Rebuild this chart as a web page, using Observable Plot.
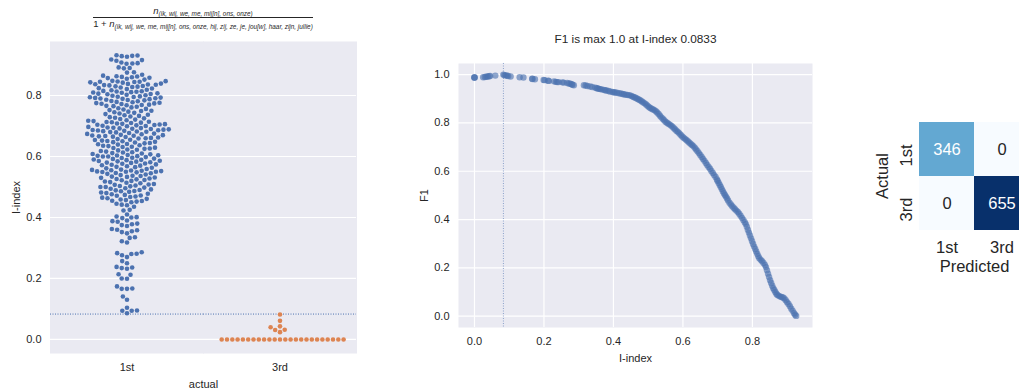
<!DOCTYPE html>
<html><head><meta charset="utf-8">
<script src="https://cdn.jsdelivr.net/npm/d3@7"></script>
<script src="https://cdn.jsdelivr.net/npm/@observablehq/plot@0.6"></script>
<style>
body{margin:0;background:#fff;overflow:hidden;}
#wrap{position:relative;width:1019px;height:392px;overflow:hidden;font-family:"Liberation Sans",Arial,sans-serif;color:#262626;}
.panel{position:absolute;top:0;}
.fline{position:absolute;left:93px;width:220px;text-align:center;white-space:nowrap;font-size:9.5px;line-height:10px;color:#262626;}
.fn{font-style:italic;}
.fsub{font-style:italic;font-size:6.4px;position:relative;top:2px;}
.fbar{position:absolute;left:93px;width:220px;top:17px;height:0;border-top:0.8px solid #262626;}
</style></head>
<body><div id="wrap">
<div class="fline" style="top:6px"><span class="fn">n</span><span class="fsub">(ik, wij, we, me, mij[n], ons, onze)</span></div>
<div class="fbar"></div>
<div class="fline" style="top:19px"><span>1 + </span><span class="fn">n</span><span class="fsub">(ik, wij, we, me, mij[n], ons, onze, hij, zij, ze, je, jou[w], haar, zijn, jullie)</span></div>
</div>
<script>
// ---------- data ----------
const classes = ["1st", "3rd"];
const threshold = 0.0833;
const titleMid = "F1 is max 1.0 at I-index 0.0833";

// I-index values of the "1st" group (swarm)
const firstValues = [
 0.086,0.094,0.094,0.095,0.104,0.130,0.141,0.166,0.166,0.167,0.174,
 0.199,0.200,0.212,0.214,0.232,0.234,0.236,0.238,0.250,0.257,
 0.270,0.276,0.280,0.281,0.283,0.286,0.318,0.322,0.333,0.335,
 0.348,0.352,0.355,0.358,0.360,0.362,0.372,0.375,0.378,0.380,0.386,0.388,0.390,
 0.398,0.400,0.401,0.403,0.410,0.423,0.425,0.435,0.440,0.442,0.445,
 0.450,0.452,0.454,0.455,0.457,0.459,
 0.461,0.463,0.465,0.467,0.469,0.471,0.472,0.474,0.476,0.478,
 0.480,0.482,0.484,0.486,0.487,0.489,0.490,0.492,0.494,0.496,0.498,
 0.500,0.500,0.502,0.503,0.505,0.507,0.508,0.510,0.512,0.514,0.516,0.518,
 0.520,0.522,0.523,0.525,0.526,0.528,0.530,0.531,0.533,0.534,0.536,0.537,0.539,
 0.541,0.543,0.545,0.546,0.548,0.549,0.550,0.550,0.551,0.552,0.553,0.554,0.555,0.556,0.557,0.559,
 0.561,0.563,0.565,0.566,0.568,0.570,0.571,0.573,0.574,0.576,0.577,0.579,
 0.580,0.581,0.583,0.584,0.585,0.586,0.588,0.589,0.590,0.592,0.593,0.595,0.596,0.598,
 0.600,0.600,0.601,0.602,0.603,0.604,0.605,0.607,0.608,0.610,0.611,0.613,0.614,0.616,0.618,
 0.620,0.622,0.623,0.625,0.626,0.628,0.629,0.631,0.632,0.634,0.635,0.637,0.639,
 0.640,0.641,0.643,0.644,0.646,0.647,0.648,0.650,0.651,0.652,0.654,0.655,0.657,0.659,
 0.660,0.661,0.662,0.664,0.665,0.666,0.667,0.668,0.669,0.670,0.671,0.673,0.674,0.675,0.677,0.679,
 0.680,0.681,0.682,0.683,0.684,0.685,0.686,0.687,0.688,0.689,0.690,0.691,0.692,0.693,0.694,0.695,0.697,0.699,
 0.700,0.701,0.702,0.703,0.704,0.705,0.706,0.707,0.708,0.710,0.711,0.712,0.713,0.714,0.716,0.717,0.719,
 0.721,0.723,0.725,0.727,0.729,0.731,0.733,0.735,0.737,0.739,
 0.741,0.743,0.745,0.747,0.749,0.750,0.752,0.754,0.756,0.758,
 0.761,0.763,0.765,0.766,0.768,0.769,0.770,0.772,0.773,0.774,0.775,0.776,0.778,0.779,
 0.781,0.782,0.784,0.785,0.786,0.788,0.789,0.790,0.791,0.792,0.793,0.794,0.795,0.796,0.797,0.799,
 0.801,0.802,0.804,0.805,0.806,0.807,0.809,0.810,0.811,0.812,0.813,0.814,0.815,0.817,0.819,
 0.821,0.823,0.824,0.826,0.828,0.829,0.830,0.831,0.833,0.834,0.835,0.836,0.837,0.838,0.839,
 0.842,0.843,0.844,0.845,0.845,0.846,0.847,0.848,0.852,0.855,0.857,0.858,0.860,0.861,0.862,0.863,0.865,0.868,
 0.875,0.876,0.889,0.890,0.892,0.904,0.905,0.906,0.908,0.914,0.916,0.918,0.927,0.929,0.930,0.931,0.932
];
// I-index values of the "3rd" group that are visible in the swarm
const thirdValues = [
 0,0,0,0,0,0,0,0,0,0,0,0,0,0,0,0,0,0,0,0,0,0,0,0,
 0.024,0.031,0.032,0.040,0.043,0.061,0.082
];

// F1 score per I-index threshold [threshold, F1]
const f1Points = [
 [0.000,0.988],[0.000,0.988],[0.000,0.988],[0.025,0.989],[0.030,0.990],[0.034,0.991],[0.038,0.992],[0.042,0.993],[0.045,0.994],[0.060,0.996],
 [0.083,1.000],[0.086,0.998],[0.090,0.997],[0.094,0.995],[0.097,0.994],[0.104,0.992],
 [0.130,0.989],[0.141,0.988],[0.166,0.983],[0.167,0.982],[0.174,0.981],
 [0.199,0.978],[0.202,0.977],[0.212,0.975],[0.214,0.974],
 [0.229,0.972],[0.234,0.970],[0.238,0.969],[0.242,0.969],[0.253,0.968],[0.257,0.967],
 [0.267,0.965],[0.272,0.963],[0.276,0.962],[0.280,0.960],[0.282,0.958],[0.286,0.956],
 [0.315,0.956],[0.320,0.955],[0.325,0.953],[0.333,0.951],[0.339,0.949],
 [0.348,0.946],[0.352,0.944],[0.355,0.943],[0.358,0.941],[0.362,0.940],[0.366,0.939],
 [0.372,0.937],[0.376,0.935],[0.380,0.934],[0.386,0.932],[0.390,0.930],[0.397,0.928],
 [0.401,0.927],[0.405,0.926],[0.410,0.925],[0.416,0.923],[0.421,0.922],[0.426,0.920],[0.430,0.919],[0.435,0.917],[0.440,0.916],[0.445,0.915],
 [0.450,0.913],[0.454,0.910],[0.458,0.907],[0.462,0.905],[0.466,0.902],[0.470,0.899],[0.474,0.896],[0.478,0.893],[0.482,0.889],[0.486,0.885],[0.490,0.881],[0.494,0.876],[0.498,0.871],
 [0.502,0.866],[0.506,0.862],[0.510,0.859],[0.514,0.856],[0.518,0.853],[0.522,0.848],[0.526,0.843],[0.530,0.837],[0.534,0.830],[0.538,0.823],[0.542,0.817],[0.546,0.811],[0.550,0.805],
 [0.554,0.801],[0.558,0.797],[0.562,0.793],[0.566,0.789],[0.570,0.784],[0.574,0.778],[0.578,0.773],[0.582,0.767],[0.586,0.762],[0.590,0.756],[0.594,0.750],[0.598,0.744],
 [0.602,0.739],[0.606,0.734],[0.610,0.729],[0.614,0.724],[0.618,0.719],[0.622,0.714],[0.626,0.709],[0.630,0.704],[0.634,0.697],[0.638,0.690],[0.642,0.683],[0.646,0.675],[0.650,0.667],
 [0.654,0.659],[0.658,0.651],[0.662,0.643],[0.666,0.634],[0.670,0.626],[0.674,0.618],[0.678,0.610],[0.682,0.601],[0.686,0.593],[0.690,0.584],[0.694,0.576],[0.698,0.566],
 [0.700,0.560],[0.703,0.551],[0.706,0.543],[0.709,0.535],[0.712,0.526],[0.715,0.517],[0.718,0.509],[0.721,0.502],[0.724,0.495],[0.727,0.487],[0.730,0.479],[0.734,0.470],[0.738,0.462],
 [0.742,0.455],[0.746,0.449],[0.750,0.443],[0.754,0.437],[0.758,0.431],[0.762,0.424],[0.766,0.416],[0.770,0.407],[0.774,0.398],[0.778,0.389],[0.781,0.381],[0.784,0.370],[0.787,0.358],
 [0.790,0.346],[0.793,0.334],[0.796,0.322],[0.799,0.310],[0.802,0.299],[0.805,0.288],[0.808,0.278],[0.811,0.268],[0.814,0.258],[0.817,0.248],[0.820,0.240],[0.824,0.233],[0.828,0.227],
 [0.832,0.220],[0.836,0.212],[0.839,0.203],[0.842,0.190],[0.845,0.176],[0.848,0.162],[0.851,0.149],[0.854,0.137],[0.857,0.126],[0.860,0.116],[0.863,0.108],[0.866,0.100],[0.869,0.093],
 [0.872,0.088],[0.876,0.084],[0.880,0.081],[0.884,0.079],[0.888,0.077],[0.892,0.073],[0.896,0.066],[0.900,0.058],[0.904,0.050],[0.908,0.041],[0.912,0.031],[0.916,0.022],[0.920,0.012],
 [0.923,0.006],[0.926,0.001]
];

// confusion matrix
const cmActual = ["1st", "1st", "3rd", "3rd"];
const cmPredicted = ["1st", "3rd", "1st", "3rd"];
const cmCounts = [346, 0, 0, 655];

const ticks01 = [0, 0.2, 0.4, 0.6, 0.8];
const ticksF1 = [0, 0.2, 0.4, 0.6, 0.8, 1.0];

// ---------- style ----------
const FONT = '"Liberation Sans", Arial, sans-serif';
const BG = "#eaeaf2";
const BLUE = "#4c72b0";
const ORANGE = "#dd8452";
const TXT = "#262626";

const wrap = document.getElementById("wrap");
function place(node, left) {
  node.classList.add("panel");
  node.style.left = left + "px";
  wrap.appendChild(node);
}

// ---------- left: swarm ----------
const swarm = [
  ...firstValues.map(v => ({actual: "1st", v})),
  ...thirdValues.map(v => ({actual: "3rd", v}))
].sort((a, b) => a.v - b.v);

const left = Plot.plot({
  width: 370, height: 392,
  marginLeft: 50, marginRight: 14, marginTop: 41, marginBottom: 39,
  style: {fontFamily: FONT, fontSize: "11px", color: TXT, background: "transparent", overflow: "visible"},
  fx: {domain: classes, padding: 0, axis: "bottom", tickSize: 0, tickPadding: 10, label: "actual", labelAnchor: "center", labelOffset: 34},
  y: {domain: [-0.046, 0.977], ticks: ticks01, tickFormat: ".1f", tickSize: 0, tickPadding: 9, label: "I-index", labelAnchor: "center", labelOffset: 38, labelArrow: false},
  color: {domain: classes, range: [BLUE, ORANGE]},
  marks: [
    Plot.frame({fill: BG, stroke: "none", insetLeft: -0.5, insetRight: -0.5}),
    Plot.gridY(ticks01, {stroke: "#fff", strokeOpacity: 1, strokeWidth: 1.2}),
    Plot.ruleY([threshold], {stroke: BLUE, strokeWidth: 1, strokeDasharray: "1,1.5"}),
    Plot.dot(swarm, Plot.dodgeX({anchor: "middle", padding: 0.7}, {fx: "actual", y: "v", r: 2.3, fill: "actual"}))
  ]
});
place(left, 0);

// ---------- middle: F1 vs threshold ----------
const mid = Plot.plot({
  width: 440, height: 392,
  marginLeft: 68, marginRight: 18, marginTop: 63, marginBottom: 65,
  style: {fontFamily: FONT, fontSize: "11px", color: TXT, background: "transparent", overflow: "visible"},
  x: {domain: [-0.046, 0.973], ticks: ticks01, tickFormat: ".1f", tickSize: 0, tickPadding: 10, label: "I-index", labelAnchor: "center", labelOffset: 34, labelArrow: false},
  y: {domain: [-0.047, 1.046], ticks: ticksF1, tickFormat: ".1f", tickSize: 0, tickPadding: 9, label: "F1", labelAnchor: "center", labelOffset: 38, labelArrow: false},
  marks: [
    Plot.frame({fill: BG, stroke: "none"}),
    Plot.gridX(ticks01, {stroke: "#fff", strokeOpacity: 1, strokeWidth: 1.2}),
    Plot.gridY(ticksF1, {stroke: "#fff", strokeOpacity: 1, strokeWidth: 1.2}),
    Plot.ruleX([threshold], {stroke: BLUE, strokeOpacity: 0.6, strokeWidth: 1, strokeDasharray: "1,1.5"}),
    Plot.dot(f1Points, {x: d => d[0], y: d => d[1], r: 3.2, fill: BLUE, fillOpacity: 0.62, stroke: "none"}),
    Plot.text([titleMid], {frameAnchor: "top", dy: -24, fontSize: 11.8, fill: TXT, lineAnchor: "middle"})
  ]
});
place(mid, 390);

// ---------- right: confusion matrix ----------
const cm = cmCounts.map((n, i) => ({actual: cmActual[i], predicted: cmPredicted[i], n}));
const right = Plot.plot({
  width: 200, height: 392,
  marginLeft: 89, marginRight: 1, marginTop: 121, marginBottom: 162,
  style: {fontFamily: FONT, fontSize: "16.5px", color: TXT, background: "transparent", overflow: "visible"},
  x: {domain: classes, padding: 0, axis: null},
  y: {domain: classes, padding: 0, axis: null},
  color: {type: "linear", scheme: "blues", domain: [0, 655]},
  marks: [
    Plot.cell(cm, {x: "predicted", y: "actual", fill: "n"}),
    Plot.text(cm, {filter: d => d.n > 300, x: "predicted", y: "actual", text: d => String(d.n), fill: "white", fontSize: 16.5}),
    Plot.text(cm, {filter: d => d.n <= 300, x: "predicted", y: "actual", text: d => String(d.n), fill: TXT, fontSize: 16.5}),
    Plot.text(classes, {x: d => d, frameAnchor: "bottom", dy: 17, fill: TXT, fontSize: 16.5, lineAnchor: "middle"}),
    Plot.text(classes, {y: d => d, frameAnchor: "left", dx: -13, dy: 6, rotate: -90, textAnchor: "middle", fill: TXT, fontSize: 16.5, lineAnchor: "middle"}),
    Plot.text(["Predicted"], {frameAnchor: "bottom", dy: 36, fill: TXT, fontSize: 16.5, lineAnchor: "middle"}),
    Plot.text(["Actual"], {frameAnchor: "left", dx: -37, rotate: -90, textAnchor: "middle", fill: TXT, fontSize: 16.5, lineAnchor: "middle"})
  ]
});
place(right, 830);
</script>
</body></html>
